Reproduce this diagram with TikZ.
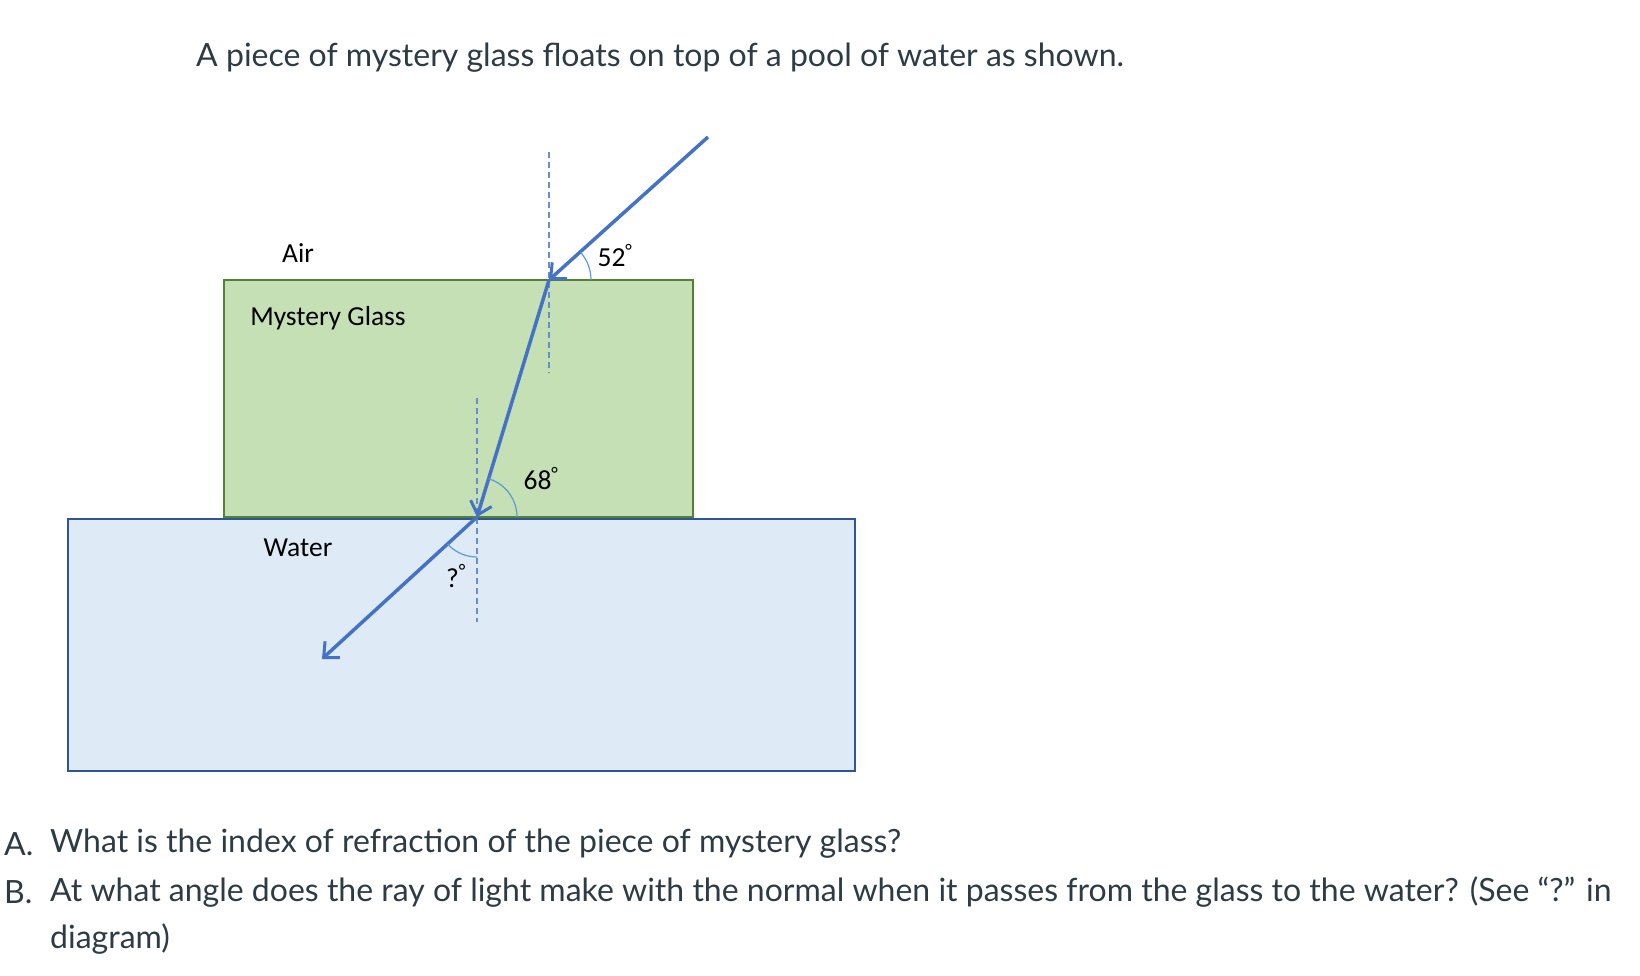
\documentclass[tikz,border=0pt]{standalone}
\usepackage{fontspec}
\setmainfont{Lato}
\newfontfamily\calib{Carlito}
\usetikzlibrary{arrows.meta}
\definecolor{txt}{HTML}{2D3B45}
\definecolor{glassfill}{HTML}{C5E0B4}
\definecolor{glassedge}{HTML}{548235}
\definecolor{waterfill}{HTML}{DEEBF7}
\definecolor{wateredge}{HTML}{2F5597}
\definecolor{ray}{HTML}{4472C4}
\definecolor{arccol}{HTML}{5B9BD5}
\newcommand{\dg}{\textsuperscript{\textdegree}}
\tikzset{
  raystyle/.style={draw=ray, line width=3.5pt, -{Straight Barb[length=12pt,width=22pt,line width=3pt]}},
  normalline/.style={draw=ray!80, line width=1.2pt, dash pattern=on 6pt off 4pt},
  anglearc/.style={draw=arccol, line width=1.2pt},
  lbl/.style={font=\calib\fontsize{27.5}{32}\selectfont, text=black, inner sep=0pt},
  para/.style={font=\fontsize{32}{38}\selectfont, text=txt, inner sep=0pt, anchor=west}
}
\begin{document}
\begin{tikzpicture}[x=1pt,y=-1pt]
\useasboundingbox (0,0) rectangle (1640,976);
% media
\draw[fill=waterfill, draw=wateredge, line width=1.3pt] (68,519) rectangle (855,771);
\draw[fill=glassfill, draw=glassedge, line width=2pt] (224,280) rectangle (693,517);
% points
\coordinate (src) at (708,137);
\coordinate (hitA) at (549,280);
\coordinate (hitB) at (477,517);
\coordinate (dst) at (322,659);
\coordinate (nAt) at (549,152);
\coordinate (nAb) at (549,373);
\coordinate (nBt) at (477,398);
\coordinate (nBb) at (477,622);
% normals
\draw[normalline] (nAt) -- (nAb);
\draw[normalline] (nBt) -- (nBb);
% rays
\draw[raystyle] (src) -- (hitA);
\draw[raystyle] (hitA) -- (hitB);
\draw[raystyle] (hitB) -- (dst);
% angle arcs
\draw[anglearc] (hitA) ++(42,0) arc[start angle=0, end angle=-42, radius=42];
\draw[anglearc] (hitB) ++(40,0) arc[start angle=0, end angle=-73, radius=40];
\draw[anglearc] (hitB) ++(0,40) arc[start angle=90, end angle=137.5, radius=40];
% labels
\node[lbl] (air) at (298,253) {Air};
\node[lbl] (glass) at (328,318) {Mystery Glass};
\node[lbl] (water) at (298,548) {Water};
\node[lbl] (a52) at (615,256) {52\dg};
\node[lbl] (a68) at (541,479) {68\dg};
\node[lbl] (aq) at (456,576) {?\dg};
% text
\node[para] (title) at (196,58) {A piece of mystery glass floats on top of a pool of water as shown.};
\node[para] (qa) at (4,844) {A.};
\node[para] (qat) at (50,844) {What is the index of refraction of the piece of mystery glass?};
\node[para] (qb) at (4,892) {B.};
\node[para] (qbt) at (50,892) {At what angle does the ray of light make with the normal when it passes from the glass to the water? (See “?” in};
\node[para] (qbt2) at (50,939) {diagram)};
\end{tikzpicture}
\end{document}
